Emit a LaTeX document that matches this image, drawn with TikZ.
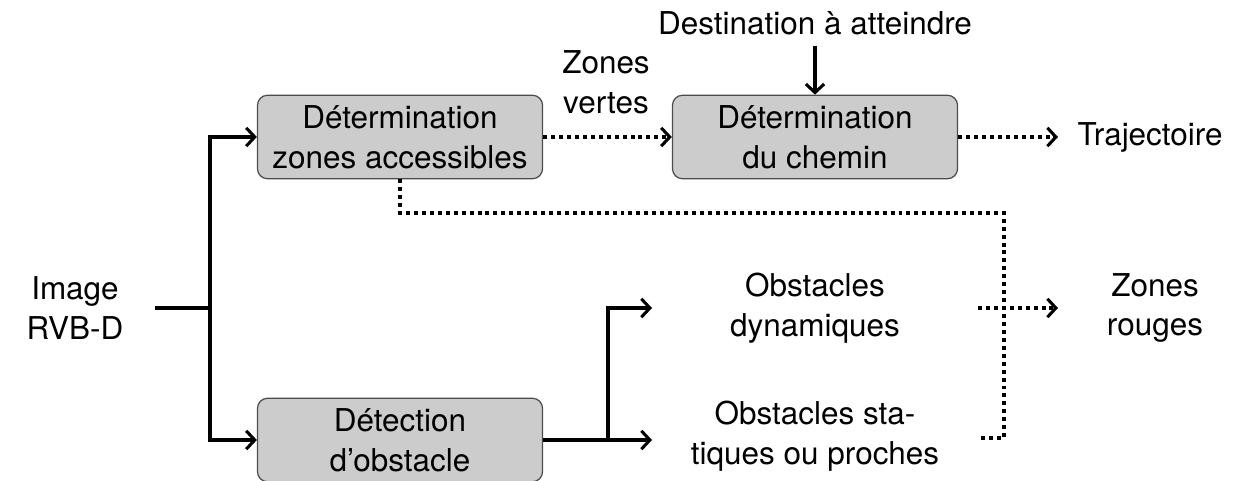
\documentclass[tikz,border=0pt]{standalone}
\usepackage{fontspec}
\setmainfont{TeX Gyre Heros}
\usepackage{tikz}
\usetikzlibrary{calc, arrows.meta}
\usetikzlibrary{positioning}

\tikzset{
    boite/.style={draw=black!70,line width=0.4pt,fill=black!20,rounded corners=3.3pt,
        minimum width=3.28cm,minimum height=0.955cm,align=center},
    texte/.style={align=center},
    fleche/.style={line width=1pt,-{Straight Barb[length=2.8pt,width=6pt]}},
    trait/.style={line width=1pt},
    pointille/.style={line width=1pt,dash pattern=on 1.3pt off 1.3pt}
}

\begin{document}
\begin{tikzpicture}[x=0.0115cm,y=-0.0115cm,font=\fontsize{10.3}{13}\selectfont]
        \useasboundingbox (0,0) rectangle (1241,480);
        \node[texte] (image) at (75,308) {Image\\RVB-D}; %entrée
        \node[boite] (zones) at (400,137) {Détermination\\zones accessibles};
        \node[boite] (chemin) at (815,137) {Détermination\\du chemin};
        \node[boite] (detect) at (400,440) {Détection\\d'obstacle};
        \node[texte] (dest) at (815,23) {Destination à atteindre};
        \node[texte] (vertes) at (606,82) {Zones\\vertes};
        \node[texte] (traj) at (1150,137) {Trajectoire};
        \node[texte] (dyn) at (815,308) {Obstacles\\dynamiques};
        \node[texte] (stat) at (815,436) {Obstacles sta-\\tiques ou proches};
        \node[texte] (rouges) at (1155,308) {Zones\\rouges};
        \coordinate (entree) at (155,308);
        \coordinate (fourche) at (210,308);
        \coordinate (branche) at (608,440);
        \coordinate (finDyn) at (652,308);
        \coordinate (finStat) at (652,440);
        \coordinate (finTraj) at (1058,137);
        \coordinate (coinA) at (1004,213);
        \coordinate (coinB) at (1004,438);
        \coordinate (debStat) at (978,438);
        \coordinate (debRouges) at (978,308);
        \coordinate (finRouges) at (1058,308);
        \draw[trait] (entree) -- (fourche); %tronc
        \draw[fleche] (fourche) |- (zones.west);
        \draw[fleche] (fourche) |- (detect.west);
        \draw[fleche] (detect.east) -- (finStat);
        \draw[fleche] (branche) |- (finDyn);
        \draw[fleche] (dest.south) -- (chemin.north);
        \draw[pointille,-{Straight Barb[length=2.8pt,width=6pt]}] (zones.east) -- (chemin.west);
        \draw[pointille,-{Straight Barb[length=2.8pt,width=6pt]}] (chemin.east) -- (finTraj);
        \draw[pointille,-{Straight Barb[length=2.8pt,width=6pt]}] (debRouges) -- (finRouges);
        \draw[pointille] (zones.south) |- (coinA) -- (coinB) -- (debStat); %zones rouges
    \end{tikzpicture}
\end{document}
